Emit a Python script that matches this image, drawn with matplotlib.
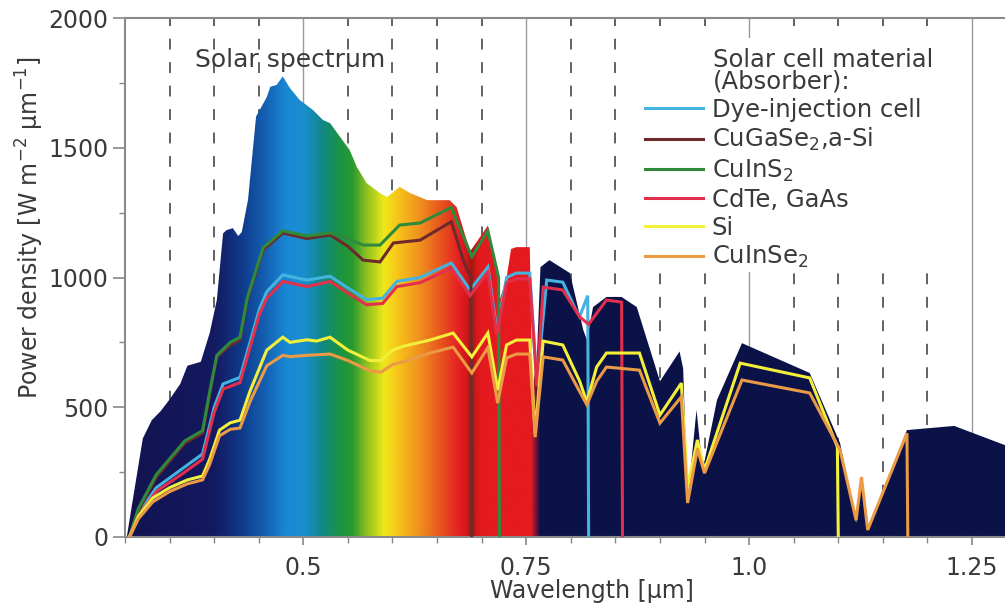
import numpy as np
import matplotlib
matplotlib.use("Agg")
import matplotlib.pyplot as plt
from matplotlib.colors import LinearSegmentedColormap
from matplotlib.patches import Polygon, Rectangle
from matplotlib.ticker import MultipleLocator, FixedLocator

plt.rcParams['font.family'] = ['DejaVu Sans']
plt.rcParams['mathtext.default'] = 'regular'

# solar spectrum envelope (wavelength in um, power density in W m-2 um-1)
spec_wl = [0.302, 0.310, 0.320, 0.330, 0.340, 0.350, 0.362, 0.370, 0.385, 0.395,
           0.403, 0.410, 0.414, 0.421, 0.427, 0.431, 0.438, 0.447, 0.459, 0.463,
           0.470, 0.477, 0.485, 0.496, 0.511, 0.522, 0.530, 0.538, 0.552, 0.560,
           0.571, 0.586, 0.594, 0.608, 0.620, 0.639, 0.664, 0.672, 0.687, 0.707,
           0.717, 0.720, 0.728, 0.733, 0.739, 0.754, 0.757, 0.762, 0.766, 0.776,
           0.799, 0.814, 0.818, 0.825, 0.840, 0.857, 0.874, 0.900, 0.922, 0.926,
           0.931, 0.941, 0.948, 0.964, 0.992, 1.068, 1.102, 1.120, 1.126, 1.133,
           1.177, 1.230, 1.290]
spec_pw = [0, 170, 380, 450, 485, 530, 590, 660, 675, 786,
           913, 1170, 1183, 1190, 1160, 1175, 1300, 1620, 1695, 1735,
           1742, 1775, 1730, 1684, 1645, 1607, 1595, 1557, 1491, 1426,
           1364, 1325, 1310, 1349, 1325, 1298, 1298, 1271, 1100, 1200,
           1030, 910, 1000, 1110, 1117, 1117, 560, 700, 1040, 1067,
           1017, 798, 760, 886, 925, 925, 886, 600, 715, 650,
           140, 490, 258, 528, 747, 632, 362, 54, 230, 27,
           412, 428, 350]

# absorbed spectra per solar cell material
dye_wl = [0.305, 0.315, 0.335, 0.367, 0.387, 0.400, 0.410, 0.429, 0.451, 0.459,
          0.477, 0.504, 0.530, 0.550, 0.571, 0.589, 0.605, 0.631, 0.666, 0.687,
          0.707, 0.717, 0.728, 0.739, 0.754, 0.762, 0.773, 0.791, 0.805, 0.810,
          0.819, 0.820]
dye_pw = [0, 90, 190, 270, 320, 500, 590, 615, 880, 945,
          1010, 990, 1005, 960, 915, 920, 985, 1000, 1056, 952,
          1040, 798, 1000, 1017, 1017, 593, 990, 982, 880, 850,
          930, 0]

cgs_wl = [0.305, 0.315, 0.335, 0.367, 0.387, 0.395, 0.403, 0.418, 0.429, 0.437,
          0.455, 0.477, 0.504, 0.530, 0.550, 0.567, 0.586, 0.601, 0.631, 0.666,
          0.680, 0.688, 0.689]
cgs_pw = [0, 100, 230, 362, 400, 550, 694, 740, 759, 913,
          1106, 1171, 1150, 1164, 1120, 1067, 1060, 1133, 1144, 1215,
          1060, 1000, 0]

cis_wl = [0.305, 0.315, 0.335, 0.367, 0.387, 0.395, 0.403, 0.418, 0.429, 0.437,
          0.455, 0.477, 0.504, 0.530, 0.550, 0.567, 0.586, 0.608, 0.631, 0.666,
          0.689, 0.707, 0.719, 0.720]
cis_pw = [0, 110, 240, 370, 410, 560, 700, 750, 770, 920,
          1115, 1180, 1160, 1172, 1150, 1125, 1125, 1202, 1210, 1270,
          1080, 1180, 1000, 0]

cdte_wl = [0.305, 0.315, 0.335, 0.367, 0.387, 0.400, 0.410, 0.429, 0.451, 0.459,
           0.477, 0.504, 0.530, 0.550, 0.571, 0.589, 0.605, 0.631, 0.666, 0.687,
           0.707, 0.717, 0.728, 0.739, 0.754, 0.762, 0.769, 0.791, 0.810, 0.820,
           0.840, 0.857, 0.858]
cdte_pw = [0, 80, 175, 250, 300, 480, 570, 595, 860, 920,
           985, 965, 985, 940, 895, 900, 965, 980, 1035, 930,
           1020, 780, 980, 995, 995, 580, 963, 952, 848, 820,
           913, 905, 0]

si_wl = [0.305, 0.315, 0.331, 0.350, 0.370, 0.387, 0.395, 0.406, 0.418, 0.429,
         0.440, 0.459, 0.477, 0.485, 0.504, 0.515, 0.530, 0.550, 0.575, 0.587,
         0.600, 0.612, 0.642, 0.668, 0.689, 0.707, 0.718, 0.728, 0.739, 0.754,
         0.760, 0.769, 0.791, 0.810, 0.818, 0.829, 0.840, 0.877, 0.900, 0.924,
         0.931, 0.942, 0.950, 0.990, 1.068, 1.099, 1.100]
si_pw = [0, 80, 150, 190, 220, 235, 300, 412, 440, 450,
         560, 720, 770, 750, 760, 755, 770, 720, 680, 680,
         720, 735, 759, 786, 694, 786, 566, 740, 759, 759,
         400, 755, 740, 600, 520, 655, 709, 709, 470, 593,
         193, 374, 258, 670, 613, 347, 0]

cise_wl = [0.305, 0.315, 0.331, 0.350, 0.370, 0.387, 0.395, 0.406, 0.418, 0.429,
           0.440, 0.459, 0.477, 0.485, 0.504, 0.530, 0.550, 0.575, 0.587, 0.600,
           0.612, 0.642, 0.668, 0.689, 0.707, 0.718, 0.728, 0.739, 0.754, 0.760,
           0.769, 0.791, 0.810, 0.818, 0.829, 0.840, 0.877, 0.900, 0.924, 0.931,
           0.942, 0.950, 0.992, 1.068, 1.102, 1.120, 1.126, 1.133, 1.177, 1.178]
cise_pw = [0, 70, 135, 175, 205, 220, 280, 390, 415, 420,
           520, 660, 700, 695, 700, 705, 680, 640, 635, 665,
           675, 709, 732, 632, 730, 516, 690, 705, 705, 385,
           694, 682, 560, 510, 600, 655, 643, 439, 540, 131,
           340, 246, 605, 555, 335, 65, 231, 27, 400, 0]

cells = [
    ("Dye-injection cell", dye_wl, dye_pw, "#45b3e0"),
    ("CuGaSe$_2$,a-Si", cgs_wl, cgs_pw, "#6e2a2a"),
    ("CuInS$_2$", cis_wl, cis_pw, "#2f8a3c"),
    ("CdTe, GaAs", cdte_wl, cdte_pw, "#e2304c"),
    ("Si", si_wl, si_pw, "#f2f03a"),
    ("CuInSe$_2$", cise_wl, cise_pw, "#eb9a45"),
]

# rainbow colouring of the spectrum by wavelength
stop_wl = [0.30, 0.40, 0.43, 0.46, 0.48, 0.50, 0.52, 0.54, 0.555, 0.57, 0.59,
           0.605, 0.63, 0.655, 0.675, 0.683, 0.688, 0.694, 0.70, 0.755, 0.765, 1.29]
stop_col = ["#12134f", "#141a60", "#0f3a8a", "#1565b8", "#1a88d5", "#1a8fcf",
            "#11878a", "#1a9444", "#2a9a30", "#8cc020", "#f0e81a", "#f7c51a",
            "#f0901e", "#e8501e", "#e31d24", "#d01818", "#9a1a14", "#d81818",
            "#e51a20", "#e51a20", "#0b1248", "#0b1248"]

xmin, xmax = 0.30, 1.287
text_col = "#3a3a3a"
fs = 17
fs_leg = 17.5

fig = plt.figure(figsize=(10.05, 6.05), dpi=100)
ax = fig.add_axes([125 / 1005, 1 - 537 / 605, 1 - 125 / 1005, (537 - 18) / 605])

# gridlines at every 0.05 um, solid at major ticks
for k in range(1, 20):
    g = round(0.30 + 0.05 * k, 2)
    if abs(g / 0.25 - round(g / 0.25)) < 1e-6:
        ax.axvline(g, color="#9a9a9a", lw=1.0, zorder=0)
    else:
        ax.axvline(g, color="#555555", lw=1.3, ls=(3, (6, 7)), zorder=0)

span = stop_wl[-1] - stop_wl[0]
cmap = LinearSegmentedColormap.from_list(
    "spec", [((w - stop_wl[0]) / span, c) for w, c in zip(stop_wl, stop_col)], N=1024)
grad = np.linspace(0, 1, 2000)[None, :]
im = ax.imshow(grad, cmap=cmap, aspect="auto", extent=(stop_wl[0], stop_wl[-1], 0, 2000),
               origin="lower", zorder=1, interpolation="bilinear")
verts = list(zip(spec_wl, spec_pw)) + [(spec_wl[-1], 0), (spec_wl[0], 0)]
poly = Polygon(verts, closed=True, facecolor="none", edgecolor="none")
ax.add_patch(poly)
im.set_clip_path(poly)

for name, wl, pw, col in cells:
    ax.plot(wl, pw, color=col, lw=2.2, label=name, zorder=3, solid_joinstyle="miter")

ax.text(0.378, 1840, "Solar spectrum", fontsize=18, color=text_col, va="center", ha="left")

ax.set_xlim(xmin, xmax)
ax.set_ylim(0, 2000)
ax.xaxis.set_major_locator(FixedLocator([0.5, 0.75, 1.0, 1.25]))
ax.set_xticklabels(["0.5", "0.75", "1.0", "1.25"])
ax.xaxis.set_minor_locator(MultipleLocator(0.05))
ax.yaxis.set_major_locator(MultipleLocator(500))
ax.yaxis.set_minor_locator(MultipleLocator(250))
ax.tick_params(axis="both", which="major", labelsize=fs, colors="#888888",
               labelcolor=text_col, width=1.2)
ax.tick_params(axis="y", which="major", length=9, pad=3)
ax.tick_params(axis="x", which="major", length=6, pad=8)
ax.tick_params(axis="both", which="minor", colors="#888888", length=4, width=1.0)
for s in ["left", "top", "bottom"]:
    ax.spines[s].set_color("#8a8a8a")
    ax.spines[s].set_linewidth(1.5)
ax.spines["right"].set_visible(False)

ax.set_xlabel("Wavelength [µm]", fontsize=fs, color=text_col)
ax.xaxis.label.set_va("center")
ax.xaxis.set_label_coords((592 - 125) / 880, (537 - 591) / 519)
ax.set_ylabel("Power density [W m$^{-2}$ µm$^{-1}$]", fontsize=fs, color=text_col)
ax.yaxis.label.set_va("center")
ax.yaxis.set_label_coords((30 - 125) / 880, (537 - 228) / 519)

# white box behind the legend (hides the gridlines)
ax.add_patch(Rectangle(((640 - 125) / 880, (537 - 272) / 519), (962 - 640) / 880,
                       (272 - 38) / 519, transform=ax.transAxes, facecolor="white",
                       edgecolor="none", zorder=3.5))
ax.text((713 - 125) / 880, (537 - 71) / 519, "Solar cell material\n(Absorber):",
        transform=ax.transAxes, fontsize=fs_leg, color=text_col, ha="left", va="center",
        linespacing=0.85, zorder=5)

leg = ax.legend(loc="upper left", bbox_to_anchor=((645 - 125) / 880, (537 - 98) / 519),
                fontsize=fs_leg, frameon=False, handlelength=2.4, handletextpad=0.35,
                labelspacing=0.17, borderpad=0, borderaxespad=0)
for t in leg.get_texts():
    t.set_color(text_col)
leg.set_zorder(5)

fig.savefig("out.png", dpi=100)
